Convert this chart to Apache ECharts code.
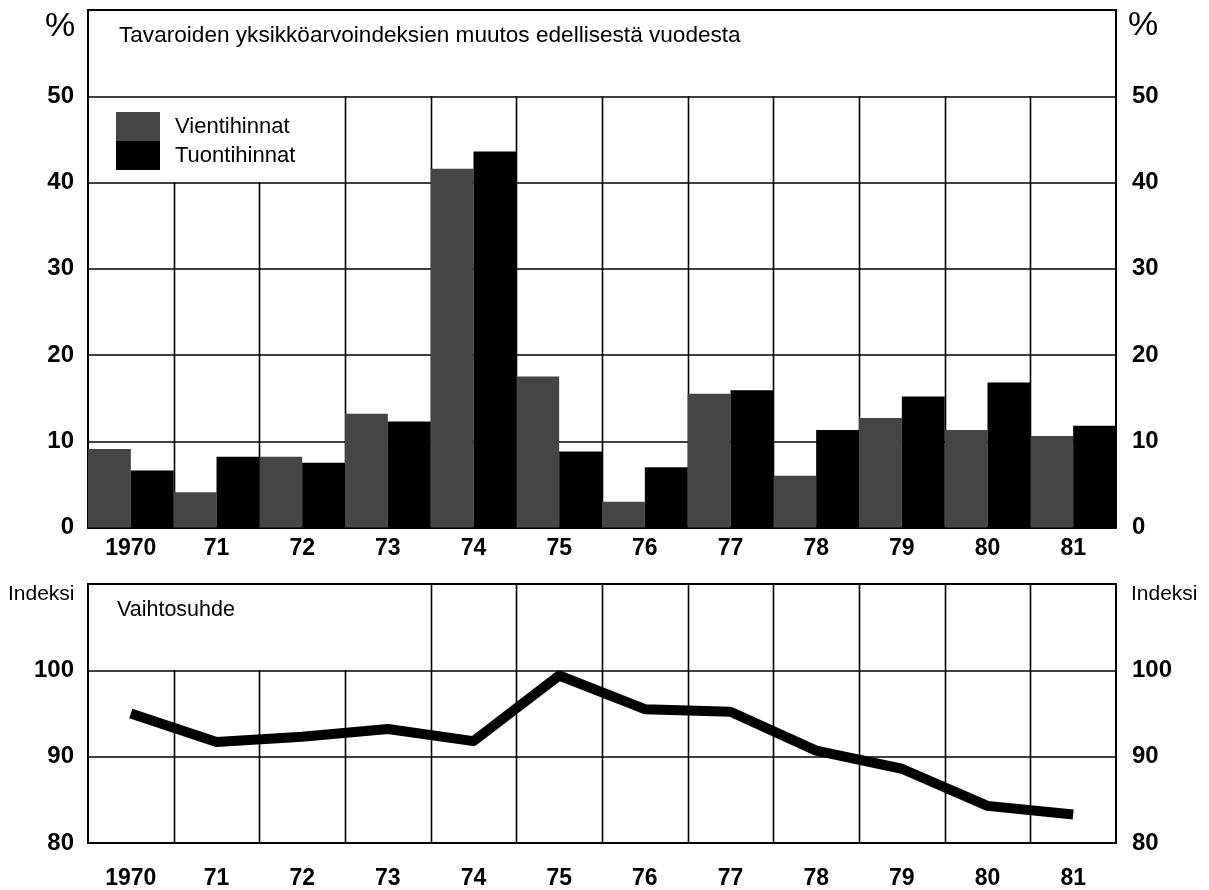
<!DOCTYPE html>
<html>
<head>
<meta charset="utf-8">
<script src="https://cdn.jsdelivr.net/npm/echarts@6/dist/echarts.min.js"></script>
<style>
html,body{margin:0;padding:0;background:#fff;}
#chart{width:1209px;height:890px;}
</style>
</head>
<body>
<div id="chart"></div>
<script>
// ---- data ----
var years = ['1970','71','72','73','74','75','76','77','78','79','80','81'];
var exportPrices = [9.1, 4.1, 8.2, 13.2, 41.6, 17.5, 3.0, 15.5, 6.0, 12.7, 11.3, 10.6];
var importPrices = [6.6, 8.2, 7.5, 12.3, 43.6, 8.8, 7.0, 15.9, 11.3, 15.2, 16.8, 11.8];
var termsOfTrade = [95.0, 91.7, 92.3, 93.2, 91.8, 99.4, 95.5, 95.2, 90.7, 88.6, 84.3, 83.3];
var topTicks = [0, 10, 20, 30, 40, 50];
var bottomTicks = [80, 90, 100];

// ---- layout ----
var L = 88, R = 93, W = 1209 - L - R;
var T1 = 10, H1 = 517.5, min1 = 0, max1 = 60;
var T2 = 584, H2 = 259, min2 = 80, max2 = 110;
var colW = W / years.length;
function py1(v){ return T1 + (max1 - v) / (max1 - min1) * H1; }
function py2(v){ return T2 + (max2 - v) / (max2 - min2) * H2; }

var FONT = 'Liberation Sans';
var numLabel = {fontFamily: FONT, fontSize: 23, fontWeight: 'bold', color: '#000'};
var lineStyle = {color: '#000', width: 1.6};

var chart = echarts.init(document.getElementById('chart'), null, {renderer: 'canvas'});

function catAxis(gi, margin){
  return {
    type: 'category', gridIndex: gi, data: years, boundaryGap: true,
    axisLine: {show: true, lineStyle: {color: '#000', width: 2}},
    axisTick: {show: false},
    axisLabel: Object.assign({margin: margin}, numLabel),
    splitLine: {show: false}
  };
}
function valAxis(gi, mn, mx, ticks, pos, split){
  return {
    type: 'value', gridIndex: gi, position: pos, min: mn, max: mx, interval: 10,
    axisLine: {show: false}, axisTick: {show: false},
    axisLabel: Object.assign({}, numLabel, {fontSize: 24, margin: pos === 'left' ? 14 : 16, align: pos === 'left' ? 'right' : 'left',
      formatter: function(v){ return ticks.indexOf(v) >= 0 ? String(v) : ''; }}),
    splitLine: {show: split, lineStyle: lineStyle}
  };
}

// vertical grid lines between categories (shortened where title/legend boxes sit)
var graphics = [];
for (var i = 1; i < years.length; i++) {
  var x = Math.round(L + i * colW) + 0.5;
  var top1 = i <= 2 ? py1(40) : py1(50);
  graphics.push({type: 'line', z: 1, silent: true,
    shape: {x1: x, y1: top1, x2: x, y2: py1(0)}, style: {stroke: '#000', lineWidth: 1.6}});
  var top2 = i <= 3 ? py2(100) : py2(110);
  graphics.push({type: 'line', z: 1, silent: true,
    shape: {x1: x, y1: top2, x2: x, y2: py2(80)}, style: {stroke: '#000', lineWidth: 1.6}});
}

var txt = function(s){ return {fontFamily: FONT, fontSize: s, fontWeight: 'normal', color: '#000'}; };

var option = {
  backgroundColor: '#fff',
  animation: false,
  title: [
    {text: '%', left: 45, top: 10, padding: 0, textStyle: txt(34)},
    {text: '%', left: 1128, top: 9, padding: 0, textStyle: txt(34)},
    {text: 'Tavaroiden yksikköarvoindeksien muutos edellisestä vuodesta', left: 119, top: 24, padding: 0,
     textStyle: txt(22.6)},
    {text: 'Indeksi', left: 8, top: 584, padding: 0, textStyle: txt(21)},
    {text: 'Indeksi', left: 1131, top: 584, padding: 0, textStyle: txt(21)},
    {text: 'Vaihtosuhde', left: 117, top: 599, padding: 0, textStyle: txt(21.5)}
  ],
  legend: {
    left: 116, top: 112, orient: 'vertical', padding: 0, itemGap: 0,
    itemWidth: 44, itemHeight: 29, icon: 'rect', selectedMode: false,
    textStyle: {fontFamily: FONT, fontSize: 22, color: '#000', padding: [0, 0, 0, 10]},
    data: ['Vientihinnat', 'Tuontihinnat']
  },
  grid: [
    {left: L, right: R, top: T1, height: H1, show: true, borderColor: '#000', borderWidth: 2, containLabel: false},
    {left: L, right: R, top: T2, height: H2, show: true, borderColor: '#000', borderWidth: 2, containLabel: false}
  ],
  xAxis: [catAxis(0, 10), catAxis(1, 24)],
  yAxis: [
    valAxis(0, min1, max1, topTicks, 'left', true),
    valAxis(0, min1, max1, topTicks, 'right', false),
    valAxis(1, min2, max2, bottomTicks, 'left', true),
    valAxis(1, min2, max2, bottomTicks, 'right', false)
  ],
  graphic: graphics,
  series: [
    {name: 'Vientihinnat', type: 'bar', xAxisIndex: 0, yAxisIndex: 0, data: exportPrices,
     barGap: '0%', barCategoryGap: '0%', itemStyle: {color: '#454545'}},
    {name: 'Tuontihinnat', type: 'bar', xAxisIndex: 0, yAxisIndex: 0, data: importPrices,
     barGap: '0%', barCategoryGap: '0%', itemStyle: {color: '#000'}},
    {name: 'Vaihtosuhde', type: 'line', xAxisIndex: 1, yAxisIndex: 2, data: termsOfTrade,
     symbol: 'none', lineStyle: {color: '#000', width: 10, cap: 'butt', join: 'round'}}
  ]
};
chart.setOption(option);
</script>
</body>
</html>
